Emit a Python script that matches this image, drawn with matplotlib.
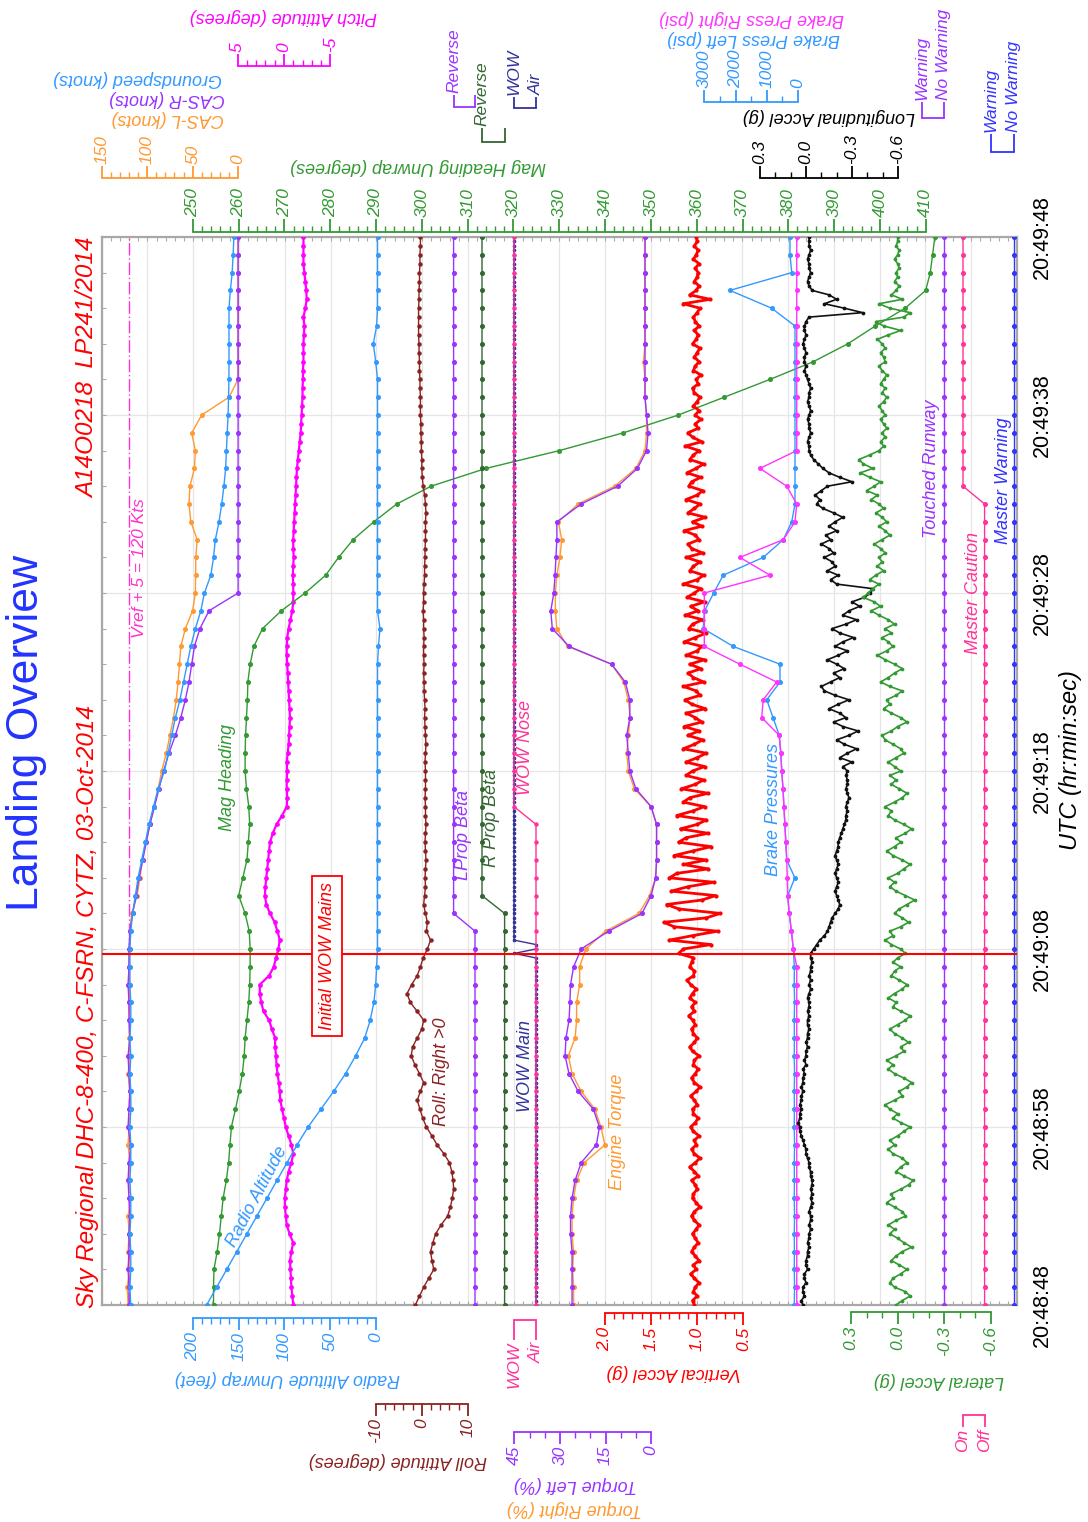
import numpy as np
import matplotlib
matplotlib.use("Agg")
import matplotlib.pyplot as plt

plt.rcParams['font.family'] = ['Liberation Sans', 'DejaVu Sans']

# ---------------- data (time in s after 20:48:48) ----------------
time_ticks = [0, 10, 20, 30, 40, 50, 60]
time_labels = ["20:48:48", "20:48:58", "20:49:08", "20:49:18", "20:49:28", "20:49:38", "20:49:48"]
t1 = np.arange(0, 61, 1.0)        # 1 Hz
t2 = np.arange(0, 60.01, 0.5)     # 2 Hz
t4 = np.arange(0, 60.001, 0.25)   # 4 Hz
t_wow_mains = 19.7
vref_plus5 = 120

cas_left = [121, 122, 119, 121, 120, 121, 118, 120, 119, 121,
            120, 118, 119, 121, 119, 120, 119, 120, 119, 120,
            119, 119, 117, 111, 108, 105, 101, 97, 92, 88,
            84, 79, 75, 71, 68, 66, 64.5, 63, 58, 50,
            47, 46.7, 46.5, 45, 52, 54, 53, 48, 47, 51,
            40, 10, 0, 0, 0, 0, 0, 0, 0, 0, 0]
cas_right = [120, 120, 121, 120, 120, 119, 120, 121, 120, 118,
             121, 120, 119, 120, 121, 119, 120, 120, 121, 120,
             120, 119, 116, 112, 109, 105, 101, 97, 92, 87,
             82, 76, 69, 63, 58, 54, 51, 48, 42, 32,
             0, 0, 0, 0, 0, 0, 0, 0, 0, 0,
             0, 0, 0, 0, 0, 0, 0, 0, 0, 0, 0]
groundspeed = [118, 119, 118, 118, 119, 118, 118, 119, 118, 118,
               119, 118, 118, 119, 118, 119, 118, 118, 119, 119,
               119, 118, 116, 113, 110, 106, 102, 98, 93, 88,
               81, 77, 73, 69, 64, 60, 56, 52, 47, 41,
               37, 30, 27, 25, 21, 18, 15.6, 13.7, 12.8, 12,
               11, 10.5, 10.1, 10, 10, 10, 10, 8.5, 6.5, 5.5, 4.6]
radio_alt = [185, 174, 163, 152, 141, 130, 119, 108, 97, 86,
             74, 60, 46, 33, 22, 12, 6, 2, 0, -1,
             -2, -2, -2, -2, -2, -2, -2, -2, -2, -2,
             -2, -2, -2, -2, -2, -2, -2, -3, -4.7, -2,
             -2, -2, -2, -2, -2, -2, -2, -2, -2, -2,
             -2, -2, -2, 0, 2.6, -1, -2, -2, -2, -2, -2]
mag_heading = [254.5, 254.5, 254.6, 255.3, 255.8, 256.2, 256.6, 257.3, 257.8, 258.1,
               258.4, 259.3, 260.1, 260.8, 261.2, 261.4, 261.8, 262.2, 262.4, 262.5,
               262.5, 262.3, 261.4, 260.0, 260.9, 261.8, 262.1, 262.4, 262.2, 261.7,
               261.4, 261.4, 261.5, 261.7, 261.9, 262.0, 262.5, 263.3, 265.2, 269.3,
               274.5, 279.0, 281.8, 285.0, 289.5, 294.5, 302.0, 314.0, 330.0, 344.0,
               356.0, 366.0, 376.0, 385.5, 393.0, 399.0, 405.5, 410.0, 411.0, 411.5, 412.0]
pitch = [-1.0, -0.9, -0.8, -0.75, -0.7, -0.65, -0.8, -1.0, -0.6, -0.3,
         -0.2, -0.1, -0.1, -0.2, -0.3, -0.5, -0.8, -1.0, -0.8, -0.5,
         -0.2, 0.0, 0.2, 0.4, 0.45, 0.55, 0.7, 0.8, 0.85, 0.95,
         0.95, 1.3, 1.6, 2.2, 2.45, 2.6, 2.6, 1.6, 1.1, 0.85,
         0.6, 0.45, 0.7, 1.0, 1.5, 1.9, 2.05, 2.0, 1.9, 1.8,
         1.7, 1.6, 1.5, 1.2, 0.8, 0.2, -0.3, -0.35, -0.3, -0.3,
         -0.35, -0.3, -0.4, -0.5, -0.55, -0.6, -0.65, -0.6, -0.55, -0.5,
         -0.45, -0.4, -0.35, -0.3, -0.3, -0.35, -0.5, -0.7, -0.9, -1.0,
         -1.0, -1.0, -0.95, -1.0, -1.05, -1.0, -1.0, -1.05, -1.1, -1.15,
         -1.2, -1.25, -1.3, -1.35, -1.4, -1.5, -1.6, -1.7, -1.8, -1.85,
         -1.9, -1.95, -2.0, -2.0, -2.05, -2.05, -2.1, -2.1, -2.1, -2.15,
         -2.2, -2.1, -2.3, -2.45, -2.4, -2.3, -2.2, -2.1, -2.1, -2.1, -2.1]
roll = [-1.4, -0.5, 0.4, 1.5, 2.6, 2.2, 1.9, 2.4, 3.0, 4.2,
        5.6, 6.2, 6.6, 6.9, 6.8, 6.5, 6.0, 4.8, 3.3, 2.2,
        1.0, 0.2, -0.4, -1.0, -0.3, 0.4, -0.5, -1.5, -2.3, -2.0,
        -1.0, 0.0, 0.4, -1.0, -2.5, -3.2, -2.2, -1.0, -0.3, 0.3,
        1.2, 1.9, 1.0, 1.2, 0.8, 0.4, 0.6, 0.8, 0.7, 0.8,
        0.9, 0.8, 0.7, 0.8, 0.9, 0.8, 0.8, 0.7, 0.8, 0.8,
        0.8, 0.7, 0.8, 0.9, 0.8, 0.7, 0.6, 0.7, 0.6, 0.5,
        0.5, 0.4, 0.5, 0.4, 0.4, 0.5, 0.4, 0.4, 0.3, 0.4,
        0.4, 0.5, 0.6, 0.6, 0.7, 0.7, 0.8, 0.8, 0.8, 0.9,
        0.8, 0.6, 0.3, 0.1, 0.0, 0.0, -0.1, -0.1, -0.2, -0.2,
        -0.3, -0.3, -0.3, -0.4, -0.4, -0.5, -0.5, -0.6, -0.6, -0.7,
        -0.7, -0.7, -0.7, -0.6, -0.6, -0.5, -0.5, -0.4, -0.4, -0.3, -0.3]
l_prop_beta = [0] * 22 + [1] * 39
r_prop_beta = [0] * 23 + [1] * 38
wow_nose = [0] * 28 + [1] * 33
wow_main = [0] * 79 + [1] + [0] * 2 + [1] * 159
torque_left = [26, 26, 26, 26, 26.5, 26.5, 26, 25, 23, 18,
               17, 19, 24, 27, 28.3, 28, 27, 26.7, 26.5, 25.5,
               23, 14, 3, 0, -1.5, -1.8, -1.8, -1.8, 0, 5,
               7, 7.5, 8, 7, 7, 8.5, 13, 27, 32.5, 33,
               32, 31.6, 31.3, 31, 31, 23, 11, 4.5, 1.5, 1,
               1.5, 2, 2, 2, 2, 2, 2, 2, 2, 2, 2]
torque_right = [25.5, 25.5, 25.8, 25.5, 26, 26, 25.5, 24.5, 22, 15.2,
                16.5, 18.5, 23, 26, 27.2, 25, 24.5, 24.5, 23.5, 23.5,
                21.5, 15, 4, 0.5, -1.5, -1.8, -1.8, -1.8, 0, 5.5,
                7.5, 8, 7.5, 6.9, 7.5, 9, 13, 27.5, 31, 31.5,
                31.5, 31, 30, 29.4, 30.5, 24, 12, 5, 2, 1.5,
                1.5, 2, 2, 2.5, 2, 2, 2, 2, 2, 2, 2]
vert_accel = [1.03, 1.05, 1.00, 1.04, 1.02, 0.98, 1.03, 1.07, 1.01, 1.04, 0.98, 1.02, 1.06, 1.03, 0.99, 1.02,
              1.05, 1.01, 0.98, 1.03, 1.06, 1.03, 0.97, 1.01, 1.05, 1.04, 1.00, 1.02, 1.06, 0.99, 1.03, 1.08,
              1.02, 0.97, 1.03, 1.06, 1.01, 1.03, 0.98, 1.04, 1.07, 1.02, 0.99, 1.04, 1.05, 1.00, 1.03, 1.07,
              1.01, 0.97, 1.03, 1.06, 1.02, 0.99, 1.04, 1.03, 0.98, 1.05, 1.08, 1.03, 1.00, 1.04, 1.06, 1.02,
              1.05, 1.09, 1.03, 1.06, 1.02, 1.08, 1.05, 1.01, 1.07, 1.11, 1.04, 1.03, 1.08, 1.06, 1.04,
              1.20, 1.15, 0.85, 1.30, 1.05, 0.78, 1.25, 1.36, 0.90, 0.75, 1.20, 1.33, 0.95, 0.80, 1.28, 1.10,
              0.82, 1.30, 1.22, 0.88, 1.15,
              0.90, 1.25, 1.05, 0.85, 1.20, 1.12, 0.88, 1.18, 1.00, 0.90, 1.22, 1.05, 0.92, 1.15, 1.08, 0.88,
              1.17, 1.02, 0.93, 1.12,
              1.05, 0.92, 1.12, 1.00, 0.90, 1.15, 1.03, 0.94, 1.10, 0.98, 1.14, 0.95, 1.02, 1.12, 0.91, 1.06,
              1.13, 0.97, 1.01, 1.15, 0.93, 1.04, 1.10, 0.96, 1.08, 0.92, 1.12, 1.00, 0.95, 1.14, 1.02, 0.90,
              1.09, 1.05, 0.94, 1.13, 0.99, 1.07, 0.92, 1.11, 1.03, 0.96, 1.15, 1.00, 0.93, 1.08, 1.04, 0.97,
              1.12, 0.94, 1.06, 1.10, 0.98, 1.02, 1.14, 0.95, 1.05, 0.91, 1.10, 1.03, 0.97, 1.12, 1.00, 0.94,
              1.09, 1.06, 0.96, 1.11, 1.01, 0.93, 1.08, 1.04, 0.98, 1.13, 0.95, 1.05, 1.10, 0.99, 1.02, 0.96,
              1.02, 0.98, 1.04, 1.00, 0.97, 1.03, 1.05, 0.99, 1.01, 0.96, 1.04, 1.02, 0.98, 1.03, 1.00, 0.97,
              1.05, 1.01, 0.99, 1.03, 0.98, 1.02, 1.04, 1.00, 0.97, 1.15, 0.86, 1.08, 1.01, 0.98, 1.03, 1.00,
              0.99, 1.02, 0.98, 1.04, 1.01, 0.99, 1.03, 1.00, 1.01]
long_accel = [0.02, 0.03, 0.01, 0.02, 0.02, 0.00, 0.01, 0.01, -0.01, 0.00, 0.00, -0.01, -0.01, -0.02, -0.01, -0.02,
              -0.02, -0.03, -0.02, -0.03, -0.03, -0.02, -0.03, -0.04, -0.03, -0.04, -0.03, -0.04, -0.04, -0.03, -0.03, -0.02,
              -0.02, -0.01, 0.00, 0.00, 0.01, 0.02, 0.03, 0.04, 0.04, 0.05, 0.04, 0.04, 0.03, 0.04, 0.03, 0.03,
              0.02, 0.03, 0.02, 0.02, 0.01, 0.02, 0.00, 0.01, 0.00, 0.00, -0.01, 0.00, -0.01, -0.01, -0.02, -0.01,
              -0.01, -0.02, -0.01, -0.02, -0.02, -0.01, -0.02, -0.03, -0.02, -0.03, -0.02, -0.03, -0.03, -0.04, -0.03,
              -0.03, -0.05, -0.07, -0.09, -0.12, -0.14, -0.15, -0.16, -0.17, -0.19, -0.21, -0.22, -0.21, -0.20, -0.19, -0.20,
              -0.21, -0.20, -0.19, -0.20, -0.21, -0.20, -0.19, -0.20, -0.21, -0.21, -0.22, -0.23, -0.24, -0.25, -0.26, -0.26,
              -0.27, -0.26, -0.27, -0.28, -0.27, -0.26, -0.27, -0.27, -0.26, -0.27,
              -0.24, -0.30, -0.22, -0.27, -0.33, -0.25, -0.20, -0.28, -0.34, -0.24, -0.18, -0.26, -0.22, -0.15, -0.21, -0.28,
              -0.19, -0.12, -0.10, -0.16, -0.22, -0.18, -0.25, -0.20, -0.14, -0.21, -0.27, -0.19, -0.24, -0.31, -0.22, -0.17,
              -0.26, -0.33, -0.24, -0.28, -0.35, -0.30, -0.38, -0.42, -0.43,
              -0.20, -0.16, -0.21, -0.14, -0.19, -0.17, -0.12, -0.18, -0.15, -0.10, -0.16, -0.13, -0.20, -0.15, -0.19, -0.24,
              -0.18, -0.11, -0.07, -0.09, -0.06, -0.10, -0.14, -0.30, -0.22, -0.15, -0.11, -0.08, -0.05, -0.03,
              -0.02, -0.02, -0.01, -0.02, -0.03, -0.02, -0.02, -0.01, -0.02, -0.03, -0.02, -0.01, -0.02, -0.02, -0.03, -0.02,
              -0.01, 0.00, 0.01, 0.00, 0.01, 0.01, 0.00, 0.01, 0.02, 0.01, 0.00, 0.01, 0.01, 0.00, -0.02, -0.37,
              -0.25, -0.12, -0.20, -0.15, -0.04, -0.02, -0.01, -0.02, -0.03, -0.02, -0.02, -0.01, -0.02, -0.03, -0.02, -0.02, -0.02]
lat_accel = [0.01, -0.03, -0.08, -0.05, 0.02, 0.05, 0.03, -0.02, -0.06, -0.01, 0.04, 0.01, -0.03, -0.09, -0.04, 0.00,
             0.05, 0.02, 0.06, 0.01, -0.05, -0.03, 0.02, 0.07, 0.03, 0.04, -0.02, -0.07, -0.10, -0.04, 0.01, -0.02,
             -0.06, -0.03, 0.03, 0.06, 0.02, 0.05, 0.00, -0.04, -0.08, -0.02, 0.03, 0.00, 0.05, 0.08, 0.02, -0.03,
             -0.01, -0.06, -0.09, -0.04, 0.02, 0.06, 0.03, 0.07, 0.01, -0.04, -0.02, -0.07, -0.03, 0.02, 0.05, 0.00,
             -0.05, -0.08, -0.02, 0.03, 0.01, 0.06, 0.02, -0.03, -0.06, -0.01, 0.04, 0.02, -0.02, 0.03, 0.00,
             -0.05, -0.02, 0.04, 0.08, 0.03, 0.05, -0.02, -0.07, -0.03, 0.02, -0.01, -0.06, -0.11, -0.05, 0.01, 0.05,
             0.02, 0.06, 0.00, -0.04, -0.08, -0.03, 0.03, 0.07, 0.02, -0.02, 0.01, -0.05, -0.09, -0.04, 0.02, 0.06,
             0.04, 0.08, 0.02, -0.03, -0.06, -0.01, 0.04, 0.01, 0.05, -0.02,
             0.02, 0.06, 0.01, -0.04, -0.02, 0.03, 0.08, 0.10, 0.04, 0.00, -0.06, -0.02, 0.04, 0.09, 0.05, 0.07,
             0.01, -0.03, 0.05, 0.11, 0.06, 0.02, -0.03, 0.02, 0.08, 0.13, 0.07, 0.03, 0.06, 0.10, 0.04, 0.08,
             0.02, 0.06, 0.12, 0.17, 0.11, 0.15, 0.22, 0.19, 0.16,
             0.12, 0.18, 0.14, 0.09, 0.13, 0.10, 0.12, 0.08, 0.11, 0.15, 0.10, 0.05, 0.08, 0.12, 0.07, 0.10,
             0.14, 0.09, 0.12, 0.17, 0.13, 0.20, 0.15, 0.11, 0.18, 0.24, 0.16, 0.22, 0.25, 0.18,
             0.12, 0.09, 0.11, 0.08, 0.10, 0.07, 0.09, 0.11, 0.08, 0.10, 0.12, 0.09, 0.07, 0.10, 0.08, 0.11,
             0.09, 0.07, 0.10, 0.12, 0.08, 0.09, 0.11, 0.08, 0.10, 0.13, 0.06, -0.02, 0.09, 0.14, -0.04, -0.08,
             0.05, 0.12, -0.03, 0.04, 0.01, -0.01, 0.02, 0.00, 0.01, -0.01, 0.00, 0.02, 0.00, -0.01, 0.01, 0.00, 0.00]
brake_left = [120, 110, 120, 115, 120, 110, 120, 115, 120, 110,
              120, 115, 120, 110, 120, 115, 120, 110, 120, 115,
              150, 210, 280, 330, 100, 360, 390, 420, 450, 480, 520, 550,
              600, 800, 1000, 577, 577, 2074, 3035, 2990, 2700, 2394, 1112, 470, 200, 96,
              96, 96, 96, 96, 96, 96, 96, 96, 96, 96, 843, 2180, 200, 256, 256]
brake_right = [40, 40, 40, 40, 40, 40, 40, 40, 40, 40,
               40, 40, 40, 40, 40, 40, 40, 40, 40, 40,
               150, 210, 280, 330, 345, 360, 390, 420, 450, 480, 520, 550,
               600, 1163, 1112, 683, 1860, 3000, 3000, 3000, 3000, 897, 1859, 470, 96, 40, 362, 1218, 40,
               40, 40, 40, 40, 40, 40, 40, 40, 40, 40, 40, 40]
touched_runway = [0] * 61
master_caution = [0] * 46 + [1] * 15
master_warning = [0] * 61

# ---------------- layout (pixels of the 1088 x 1522 canvas) ----------------
W, H = 1088, 1522
PL, PR, PT, PB = 101.7, 1017.0, 237.0, 1305.0
rect = [PL / W, 1 - PB / H, (PR - PL) / W, (PB - PT) / H]
# value/pixel calibration of each scale: (v1, px1, v2, px2)
SC = {
    'heading': (250, 192.9, 410, 925.7), 'cas': (150, 101.0, 0, 237.5),
    'pitch': (5, 237.5, -5, 330.4), 'lprop': (1, 453.6, 0, 475.0),
    'rprop': (1, 482.0, 0, 504.6), 'wowm': (1, 514.0, 0, 536.0),
    'brake': (3000, 704.3, 0, 798.0), 'lon': (0.3, 760.0, -0.6, 898.0),
    'trw': (1, 921.7, 0, 943.7), 'mw': (1, 990.9, 0, 1013.6),
    'ra': (200, 192.9, 0, 375.7), 'wown': (1, 514.0, 0, 536.0),
    'roll': (-10, 375.7, 10, 467.9), 'torque': (45, 514.3, 0, 651.1),
    'vacc': (2.0, 604.7, 0.5, 743.4), 'lat': (0.3, 851.0, -0.6, 990.9),
    'mc': (1, 963.0, 0, 984.6),
}
TICK_FS = 12.5
TITLE_FS = 13

fig = plt.figure(figsize=(W / 100, H / 100), dpi=100)
fig.patch.set_facecolor('white')


def fx(x):
    return x / W


def fy(y):
    return 1 - y / H


# main frame / grid
ax0 = fig.add_axes(rect)
ax0.set_xlim(0, 20)
ax0.set_ylim(0, 60)
ax0.set_xticks(np.arange(0, 21, 1))
ax0.set_xticks(np.arange(0, 20.01, 0.2), minor=True)
ax0.set_yticks(time_ticks, labels=time_labels, rotation=90, va='center', fontsize=15.5)
ax0.set_yticks(np.arange(0, 61, 2), minor=True)
ax0.yaxis.tick_right()
ax0.tick_params(axis='x', which='both', top=True, bottom=True, labelbottom=False,
                direction='in', color='#aaaaaa', length=3, width=0.8)
ax0.tick_params(axis='y', which='both', left=True, right=True, labelleft=False, labelright=True,
                direction='in', color='#aaaaaa', length=3, width=0.8, pad=11)
ax0.grid(True, which='major', color='#e6e6e6', lw=0.9)
for s in ax0.spines.values():
    s.set_color('#a8a8a8')
    s.set_linewidth(1.6)


def make_ax(key):
    v1, x1, v2, x2 = SC[key]
    ax = fig.add_axes(rect)
    ax.patch.set_visible(False)
    k = (v2 - v1) / (x2 - x1)
    ax.set_xlim(v1 + (PL - x1) * k, v1 + (PR - x1) * k)
    ax.set_ylim(0, 60)
    for s in ax.spines.values():
        s.set_visible(False)
    ax.set_yticks([])
    ax.tick_params(which='both', left=False, right=False, top=False, bottom=False,
                   labelleft=False, labelright=False, labeltop=False, labelbottom=False)
    return ax


def draw_scale(ax, side, base_px, lo, hi, majors, labels, minors, color,
               maj_len=12, min_len=6, fs=TICK_FS, pad=1.5):
    sp = ax.spines[side]
    sp.set_visible(True)
    off = (PT - base_px) if side == 'top' else (base_px - PB)
    sp.set_position(('outward', off * 0.72))
    sp.set_bounds(lo, hi)
    sp.set_color(color)
    sp.set_linewidth(1.3)
    ax.xaxis.set_ticks_position(side)
    ax.set_xticks(majors, labels=labels, rotation=90, fontstyle='italic', color=color, fontsize=fs)
    ax.set_xticks(minors, minor=True)
    ax.tick_params(axis='x', which='major', direction='out', length=maj_len * 0.72, width=1.3,
                   color=color, pad=pad, **{side: True, 'label' + side: True})
    ax.tick_params(axis='x', which='minor', direction='out', length=min_len * 0.72, width=1.0,
                   color=color, **{side: True})


def line(ax, t, v, color, lw=1.0, ms=2.6, z=3):
    ax.plot(v, t, color=color, lw=lw, marker='o', ms=ms, mec=color, mfc=color, zorder=z)


C_OR, C_PU, C_BL, C_MG = '#ff9933', '#9933ff', '#3399ff', '#ff00ff'
C_GR, C_DG, C_RO, C_NV = '#339933', '#336633', '#8b2222', '#333399'
C_PK, C_RD, C_MW = '#ff3399', '#ff0000', '#3333ff'

# --- speeds ---
ax = make_ax('cas')
draw_scale(ax, 'top', 177.7, 0, 150, [0, 50, 100, 150], ['0', '50', '100', '150'],
           np.arange(0, 151, 10), C_OR)
ax.axvline(vref_plus5, color='#ff33cc', lw=1.0, ls=(0, (9, 2, 1, 2)), zorder=2)
line(ax, t1, cas_left, C_OR)
line(ax, t1, cas_right, C_PU)
line(ax, t1, groundspeed, C_BL)

# --- pitch ---
ax = make_ax('pitch')
draw_scale(ax, 'top', 65.7, -5, 5, [5, 0, -5], ['5', '0', '-5'], np.arange(-5, 6, 1), C_MG)
line(ax, t2, pitch, C_MG, lw=1.6, ms=2.4)

# --- heading ---
ax = make_ax('heading')
draw_scale(ax, 'top', 232.3, 250, 410, np.arange(250, 411, 10), [str(v) for v in range(250, 411, 10)],
           np.arange(250, 411, 2), C_GR, maj_len=13, min_len=6)
line(ax, t1, mag_heading, C_GR, z=4)

# --- radio altitude ---
ax = make_ax('ra')
draw_scale(ax, 'bottom', 1318.0, 0, 200, [200, 150, 100, 50, 0], ['200', '150', '100', '50', '0'],
           np.arange(0, 201, 10), C_BL)
line(ax, t1, radio_alt, C_BL)

# --- roll ---
ax = make_ax('roll')
draw_scale(ax, 'bottom', 1404.0, -10, 10, [-10, 0, 10], ['-10', '0', '10'], np.arange(-10, 11, 2), C_RO)
line(ax, t2, roll, C_RO, ms=2.2)

# --- prop beta & WOW (discrete) ---
ax = make_ax('lprop')
draw_scale(ax, 'top', 107.0, 0, 1, [1, 0], ['Reverse', ''], [], C_PU, maj_len=12)
line(ax, t1, l_prop_beta, C_PU)
ax = make_ax('rprop')
draw_scale(ax, 'top', 141.7, 0, 1, [1, 0], ['Reverse', ''], [], C_DG, maj_len=14)
line(ax, t1, r_prop_beta, C_DG)
ax = make_ax('wowm')
draw_scale(ax, 'top', 108.0, 0, 1, [1, 0], ['WOW', 'Air'], [], C_NV, maj_len=11)
line(ax, t4, wow_main, C_NV, ms=1.6)
ax = make_ax('wown')
draw_scale(ax, 'bottom', 1320.0, 0, 1, [1, 0], ['WOW', 'Air'], [], C_PK, maj_len=20)
line(ax, t1, wow_nose, C_PK, ms=2.2)

# --- torque ---
ax = make_ax('torque')
draw_scale(ax, 'bottom', 1431.7, 0, 45, [45, 30, 15, 0], ['45', '30', '15', '0'], np.arange(0, 46, 5), C_PU)
line(ax, t1, torque_right, C_OR)
line(ax, t1, torque_left, C_PU)

# --- vertical accel ---
ax = make_ax('vacc')
draw_scale(ax, 'bottom', 1312.7, 0.5, 2.0, [2.0, 1.5, 1.0, 0.5], ['2.0', '1.5', '1.0', '0.5'],
           np.round(np.arange(0.5, 2.01, 0.1), 2), C_RD)
line(ax, t4, vert_accel, C_RD, lw=2.0, ms=2.0)

# --- brake pressures ---
ax = make_ax('brake')
draw_scale(ax, 'top', 101.7, 0, 3000, [3000, 2000, 1000, 0], ['3000', '2000', '1000', '0'],
           np.arange(0, 3001, 500), C_BL)
line(ax, t1, brake_left, C_BL)
line(ax, t1, brake_right, '#ff33ff')

# --- longitudinal accel ---
ax = make_ax('lon')
draw_scale(ax, 'top', 178.3, -0.6, 0.3, [0.3, 0.0, -0.3, -0.6], ['0.3', '0.0', '-0.3', '-0.6'],
           np.round(np.arange(-0.6, 0.31, 0.1), 2), '#000000')
line(ax, t4, long_accel, '#111111', lw=1.2, ms=1.7)

# --- lateral accel ---
ax = make_ax('lat')
draw_scale(ax, 'bottom', 1311.7, -0.6, 0.3, [0.3, 0.0, -0.3, -0.6], ['0.3', '0.0', '-0.3', '-0.6'],
           np.round(np.arange(-0.6, 0.31, 0.1), 2), C_GR)
line(ax, t4, lat_accel, C_GR, lw=1.2, ms=1.7)

# --- warnings ---
ax = make_ax('trw')
draw_scale(ax, 'top', 118.0, 0, 1, [1, 0], ['Warning', 'No Warning'], [], C_PU, maj_len=16)
line(ax, t1, touched_runway, C_PU)
ax = make_ax('mc')
draw_scale(ax, 'bottom', 1415.0, 0, 1, [1, 0], ['On', 'Off'], [], C_PK, maj_len=12)
line(ax, t1, master_caution, C_PK)
ax = make_ax('mw')
draw_scale(ax, 'top', 151.7, 0, 1, [1, 0], ['Warning', 'No Warning'], [], C_MW, maj_len=18)
line(ax, t1, master_warning, C_MW)

# --- event line ---
axe = fig.add_axes(rect)
axe.patch.set_visible(False)
axe.set_xlim(0, 20)
axe.set_ylim(0, 60)
axe.axis('off')
axe.axhline(t_wow_mains, color=C_RD, lw=1.5, zorder=10)


# ---------------- texts ----------------
def txt(s, x, y, color, rot=90, fs=13, ha='center', va='center', style='italic', **kw):
    fig.text(fx(x), fy(y), s, color=color, rotation=rot, fontsize=fs, ha=ha, va=va,
             fontstyle=style, **kw)


# axis titles (upside down)
txt('Mag Heading Unwrap (degrees)', 418, 166, C_GR, rot=180, fs=TITLE_FS)
txt('CAS-L (knots)', 224, 118, C_OR, rot=180, fs=TITLE_FS, ha='right')
txt('CAS-R (knots)', 225, 99, C_PU, rot=180, fs=TITLE_FS, ha='right')
txt('Groundspeed (knots)', 222, 79, C_BL, rot=180, fs=TITLE_FS, ha='right')
txt('Pitch Attitude (degrees)', 283, 17, C_MG, rot=180, fs=TITLE_FS)
txt('Brake Press Left (psi)', 753, 38, C_BL, rot=180, fs=TITLE_FS)
txt('Brake Press Right (psi)', 752, 18, '#ff33ff', rot=180, fs=TITLE_FS)
txt('Longitudinal Accel (g)', 829, 117, '#000000', rot=180, fs=TITLE_FS)
txt('Radio Altitude Unwrap (feet)', 287, 1378, C_BL, rot=180, fs=TITLE_FS)
txt('Roll Attitude (degrees)', 398, 1460, C_RO, rot=180, fs=TITLE_FS)
txt('Torque Left (%)', 575, 1485, C_PU, rot=180, fs=TITLE_FS)
txt('Torque Right (%)', 574, 1508, C_OR, rot=180, fs=TITLE_FS)
txt('Vertical Accel (g)', 674, 1373, C_RD, rot=180, fs=TITLE_FS)
txt('Lateral Accel (g)', 939, 1381, C_GR, rot=180, fs=TITLE_FS)

# headings
txt('Landing Overview', 27, 733, '#2233ff', fs=32, style='normal')
txt('Sky Regional DHC-8-400, C-FSRN, CYTZ, 03-Oct-2014', 88, 1308, C_RD, fs=17.5, va='bottom')
txt('A14O0218  LP241/2014', 88, 238, C_RD, fs=17.5, va='top')
txt('UTC (hr:min:sec)', 1070, 760, '#000000', fs=17)

# in-plot labels
txt('Vref + 5 = 120 Kts', 139, 568, '#ff33cc', fs=12.5)
txt('Mag Heading', 228, 778, C_GR, fs=13)
txt('Radio Altitude', 257, 1197, C_BL, rot=62, fs=13)
txt('Initial WOW Mains', 327, 956, C_RD, fs=13,
    bbox=dict(boxstyle='square,pad=0.35', fc='white', ec=C_RD, lw=1.3))
txt('Roll: Right >0', 442, 1072, C_RO, fs=13)
txt('LProp Beta', 464, 835, C_PU, fs=13)
txt('R Prop Beta', 492, 818, C_DG, fs=13)
txt('WOW Nose', 526, 748, C_PK, fs=13)
txt('WOW Main', 526, 1066, C_NV, fs=13)
txt('Engine Torque', 618, 1132, C_OR, fs=13)
txt('Brake Pressures', 773, 809, C_BL, fs=13)
txt('Touched Runway', 931, 469, C_PU, fs=13)
txt('Master Caution', 973, 593, C_PK, fs=13)
txt('Master Warning', 1004, 481, C_MW, fs=13)

fig.savefig('out.png', dpi=100, facecolor='white')
